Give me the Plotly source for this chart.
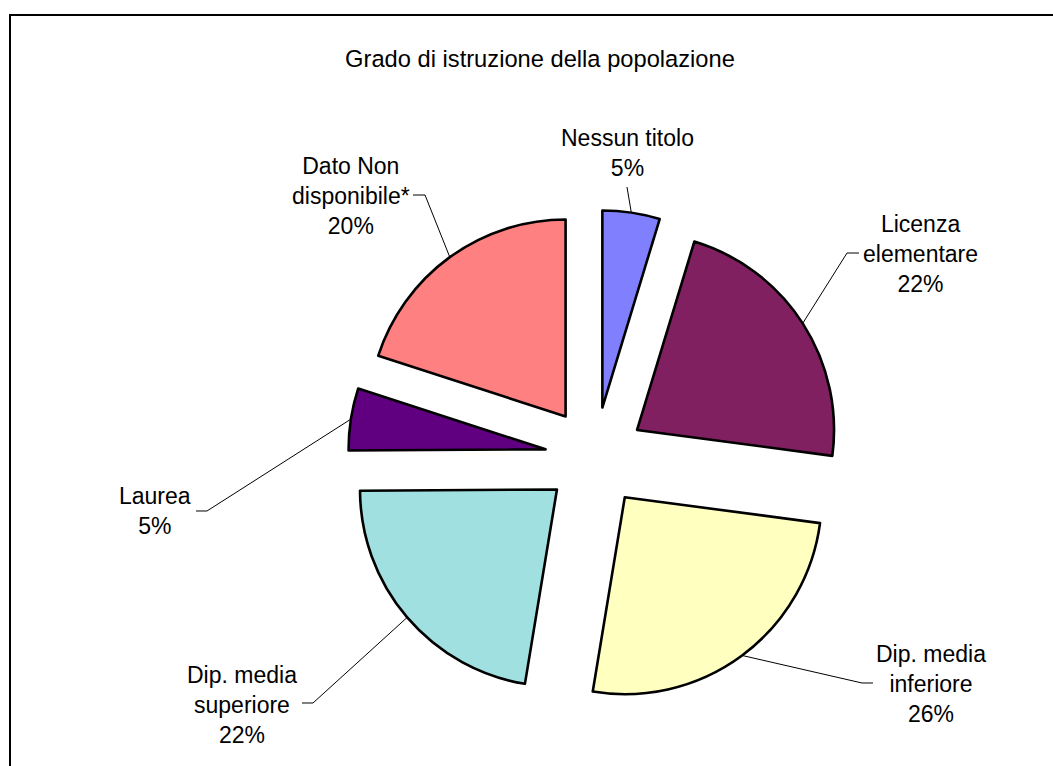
import math
import plotly.graph_objects as go

# ---------------- data ----------------
categories = ["Nessun titolo", "Licenza elementare", "Dip. media inferiore",
              "Dip. media superiore", "Laurea", "Dato Non disponibile*"]
label_lines = ["Nessun titolo", "Licenza<br>elementare", "Dip. media<br>inferiore",
               "Dip. media<br>superiore", "Laurea", "Dato Non<br>disponibile*"]
values = [4.7, 22.4, 25.5, 22.3, 5.1, 20.0]
colors = ["#8080FF", "#802060", "#FFFFC0", "#A0E0E0", "#600080", "#FF8080"]
title_text = "Grado di istruzione della popolazione"

# ---------------- layout constants (pixels) ----------------
W, H = 1053, 766
CX, CY = 595, 457          # pie centre
HALF_W, HALF_H = 300, 247  # half size of the pie domain box
PULL = 0.254
FONT = "Liberation Sans, Arial, sans-serif"
FS = 23
TITLE_FS = 23.7

# text block centres and leader-line bend points (pixels)
label_pos = [(627, 153), (920, 254), (931, 684), (242, 705), (155, 511), (351, 196)]
leader_pts = [[(627, 187)],
              [(847, 253), (859, 253)],
              [(862, 683), (873, 683)],
              [(313, 703), (302, 703)],
              [(207, 511), (196, 511)],
              [(425, 195), (413, 195)]]

def px(x):
    return x / W

def py(y):
    return 1 - y / H

dom_x = [px(CX - HALF_W), px(CX + HALF_W)]
dom_y = [py(CY + HALF_H), py(CY - HALF_H)]
R = min(2 * HALF_W, 2 * HALF_H) / (2 + 2 * PULL)

fig = go.Figure(go.Pie(
    labels=categories,
    values=values,
    sort=False,
    direction="clockwise",
    rotation=0,
    pull=[PULL] * len(values),
    marker=dict(colors=colors, line=dict(color="black", width=2.6)),
    textinfo="none",
    hoverinfo="label+percent",
    showlegend=False,
    domain=dict(x=dom_x, y=dom_y),
))

total = sum(values)
cum = 0.0
annotations = []
shapes = []
for i, v in enumerate(values):
    a0 = cum / total * 360
    cum += v
    a1 = cum / total * 360
    mid = math.radians((a0 + a1) / 2)
    ax_ = CX + R * (1 + PULL) * math.sin(mid)
    ay_ = CY - R * (1 + PULL) * math.cos(mid)
    pts = [(ax_, ay_)] + leader_pts[i]
    path = "M " + " L ".join(f"{px(x):.5f},{py(y):.5f}" for x, y in pts)
    shapes.append(dict(type="path", xref="paper", yref="paper", path=path,
                       line=dict(color="black", width=1)))
    pct = int(math.floor(v / total * 100 + 0.5))
    lx, ly = label_pos[i]
    annotations.append(dict(
        x=px(lx), y=py(ly), xref="paper", yref="paper",
        text=f"{label_lines[i]}<br>{pct}%", showarrow=False,
        xanchor="center", yanchor="middle", align="center",
        font=dict(family=FONT, size=FS, color="black"),
    ))

# chart border (extends past the right/bottom edges)
shapes.append(dict(type="rect", xref="paper", yref="paper",
                   x0=px(10), y0=py(800), x1=px(1100), y1=py(15),
                   line=dict(color="black", width=2), fillcolor="rgba(0,0,0,0)"))

fig.update_layout(
    width=W, height=H,
    margin=dict(l=0, r=0, t=0, b=0),
    paper_bgcolor="white",
    plot_bgcolor="white",
    title=dict(text=title_text, x=px(540), xanchor="center",
               y=py(59), yanchor="middle",
               font=dict(family=FONT, size=TITLE_FS, color="black")),
    annotations=annotations,
    shapes=shapes,
)

fig.write_html("out.html", config={"displayModeBar": False},
               post_script="document.body.style.margin='0px';")
